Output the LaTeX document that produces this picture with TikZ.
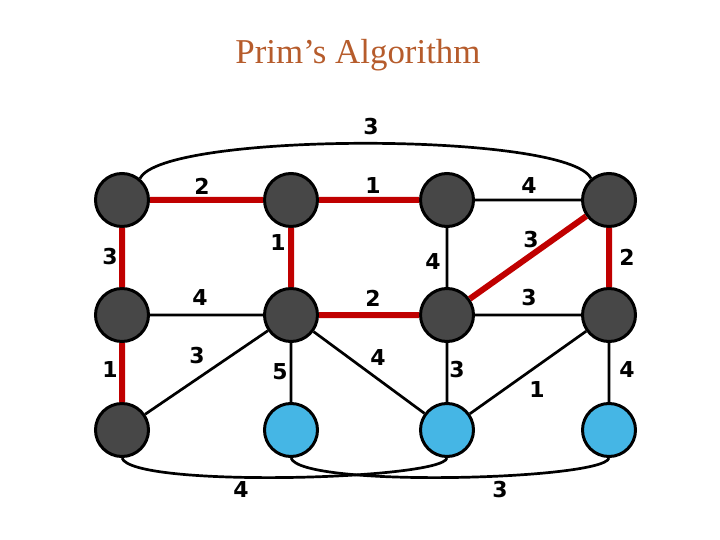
\documentclass[tikz,border=0pt]{standalone}
\usepackage{fontspec}
\setmainfont{Liberation Serif}
\newfontfamily\weightfont{DejaVu Sans}
\definecolor{vertexgray}{HTML}{474747}
\definecolor{vertexblue}{HTML}{45B6E5}
\definecolor{treered}{HTML}{C00000}
\definecolor{titlebrown}{HTML}{B65C2C}

\begin{document}
\begin{tikzpicture}[x=1bp, y=-1bp,
    vertex/.style={circle, draw=black, line width=3bp, minimum size=53bp, inner sep=0pt, fill=vertexgray},
    fresh/.style={vertex, fill=vertexblue},
    plain/.style={black, line width=2.7bp},
    tree/.style={treered, line width=6bp},
    weight/.style={font=\weightfont\bfseries\fontsize{22}{22}\selectfont}]
  \useasboundingbox (0,0) rectangle (720,540);
  \node[font=\fontsize{35}{35}\selectfont, text=titlebrown] (title) at (358,55) {Prim’s Algorithm};
  % vertices
  \node[vertex] (a1) at (122,200) {};  \node[vertex] (a2) at (291,200) {};
  \node[vertex] (a3) at (447,200) {};  \node[vertex] (a4) at (609,200) {};
  \node[vertex] (b1) at (122,315) {};  \node[vertex] (b2) at (291,315) {};
  \node[vertex] (b3) at (447,315) {};  \node[vertex] (b4) at (609,315) {};
  \node[vertex] (c1) at (122,430) {};  \node[fresh] (c2) at (291,430) {};
  \node[fresh] (c3) at (447,430) {};   \node[fresh] (c4) at (609,430) {};
  % edges
  \draw[plain] (a3) -- (a4) (b1) -- (b2) (b3) -- (b4) (a3) -- (b3)
    (b2) -- (c1) (b2) -- (c2) (b2) -- (c3) (b3) -- (c3) (b4) -- (c3) (b4) -- (c4);
  \draw[plain] (a1.50) .. controls +(22,-47) and +(-22,-47) .. (a4.130);
  \draw[plain] (c1.south) .. controls +(10,30) and +(-5,22) .. (c3.south);
  \draw[plain] (c2.south) .. controls +(10,30) and +(-5,22) .. (c4.south);
  \draw[tree] (a1) -- (a2) (a2) -- (a3) (a1) -- (b1) (a2) -- (b2) (a4) -- (b4)
    (b3) -- (a4) (b2) -- (b3) (b1) -- (c1);
  % weights
  \node[weight] (w1) at (371,127) {3};
  \node[weight] (w2) at (202,186) {2};
  \node[weight] (w3) at (373,186) {1};
  \node[weight] (w4) at (529,186) {4};
  \node[weight] (w5) at (110,257) {3};
  \node[weight] (w6) at (278,243) {1};
  \node[weight] (w7) at (433,262) {4};
  \node[weight] (w8) at (531,240) {3};
  \node[weight] (w9) at (627,257) {2};
  \node[weight] (w10) at (200,298) {4};
  \node[weight] (w11) at (373,298) {2};
  \node[weight] (w12) at (529,298) {3};
  \node[weight] (w13) at (110,370) {1};
  \node[weight] (w14) at (197,356) {3};
  \node[weight] (w15) at (280,372) {5};
  \node[weight] (w16) at (378,358) {4};
  \node[weight] (w17) at (457,370) {3};
  \node[weight] (w18) at (537,390) {1};
  \node[weight] (w19) at (627,370) {4};
  \node[weight] (w20) at (241,490) {4};
  \node[weight] (w21) at (500,490) {3};
\end{tikzpicture}
\end{document}
